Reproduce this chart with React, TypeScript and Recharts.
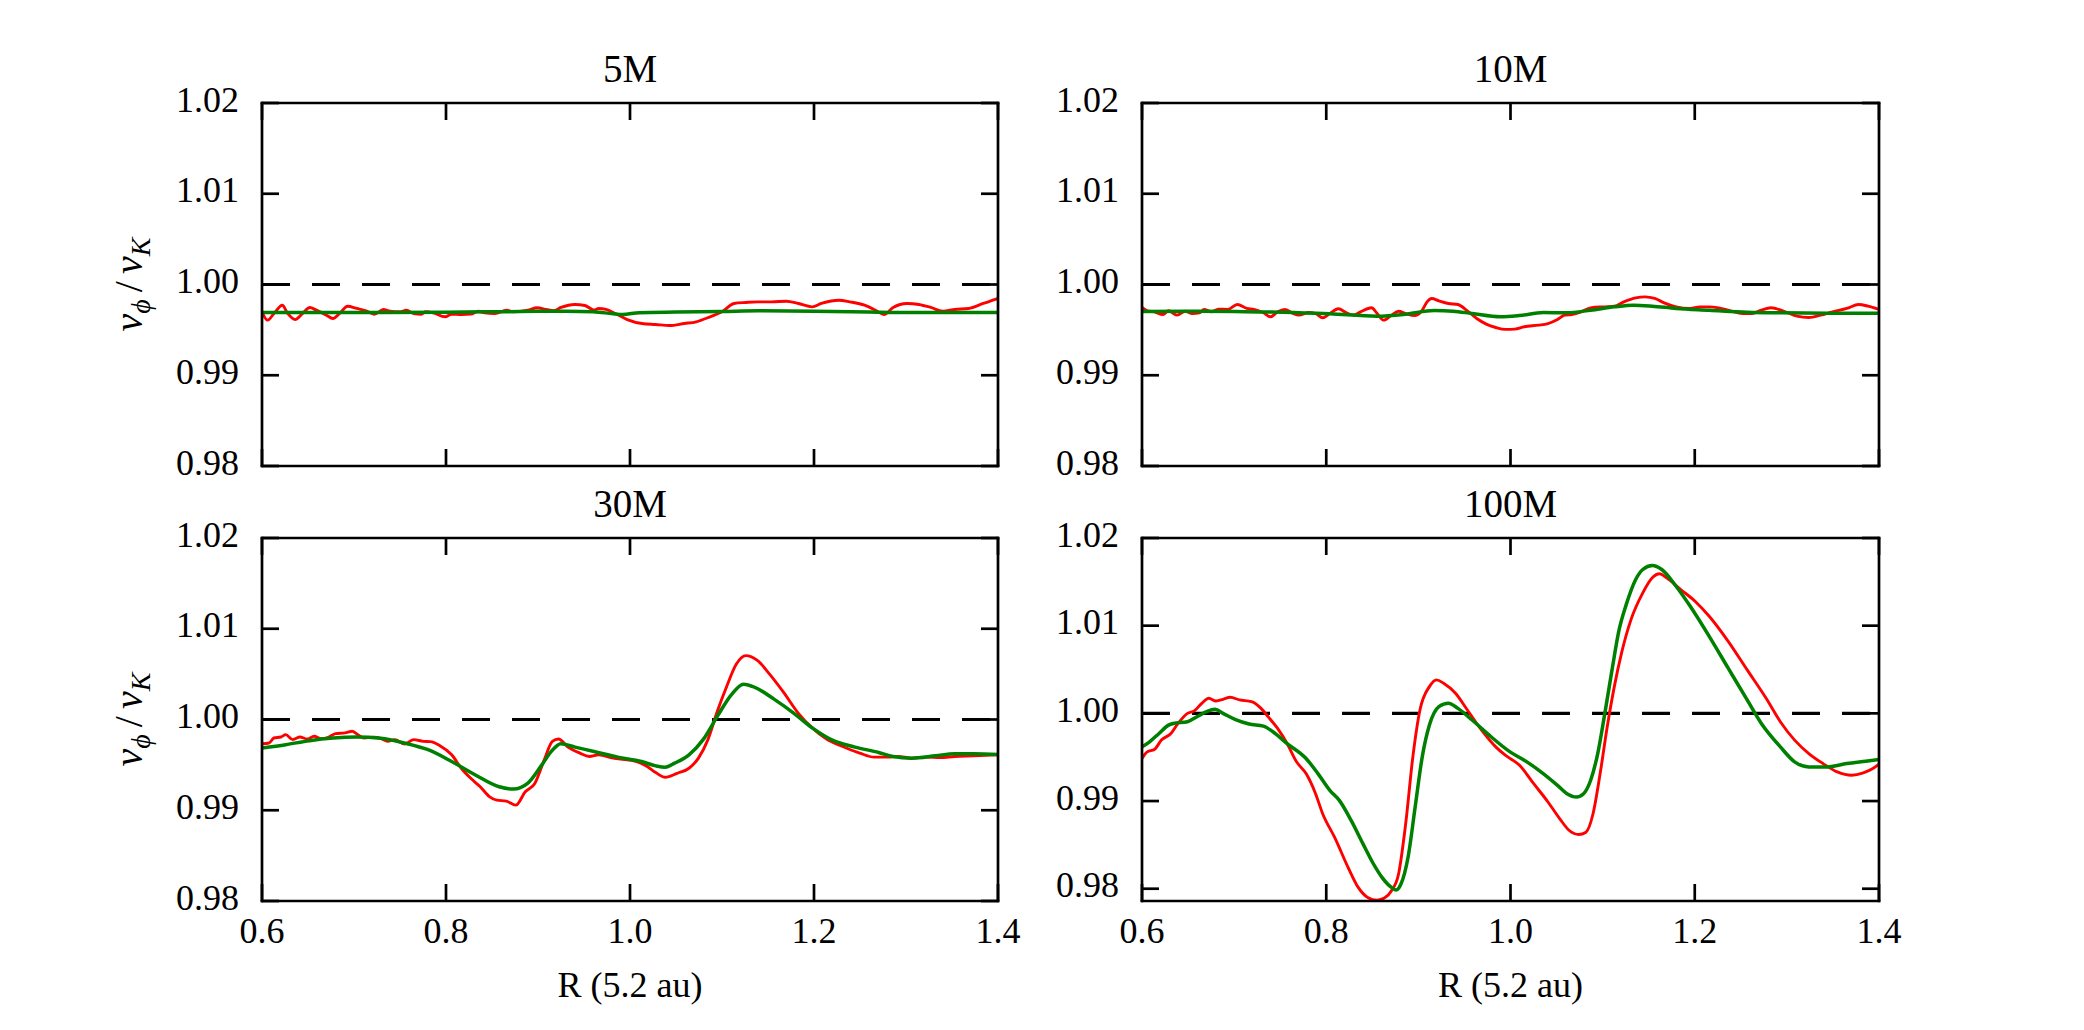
import React from 'react';
import { LineChart, Line, XAxis, YAxis, ReferenceLine } from 'recharts';

// ---------- tick values & texts ----------
const X_TICKS = [0.6, 0.8, 1.0, 1.2, 1.4];
const Y_TICKS = [0.98, 0.99, 1.0, 1.01, 1.02];
const TITLES = ['5M', '10M', '30M', '100M'];
const X_LABEL = 'R (5.2 au)';

// ---------- 5M ----------
const R_5M_RED = [0.600, 0.606, 0.613, 0.622, 0.628, 0.636, 0.644, 0.652, 0.659, 0.670, 0.677, 0.685, 0.693, 0.703, 0.713, 0.722, 0.732, 0.739, 0.750, 0.757, 0.765, 0.773, 0.778, 0.786, 0.799, 0.806, 0.817, 0.827, 0.835, 0.842, 0.853, 0.866, 0.873, 0.889, 0.899, 0.909, 0.917, 0.925, 0.940, 0.951, 0.961, 0.966, 0.974, 0.984, 0.997, 1.013, 1.028, 1.043, 1.059, 1.072, 1.087, 1.100, 1.113, 1.126, 1.139, 1.154, 1.170, 1.183, 1.198, 1.208, 1.227, 1.239, 1.255, 1.268, 1.276, 1.286, 1.301, 1.314, 1.327, 1.340, 1.353, 1.368, 1.384, 1.397, 1.400];
const V_5M_RED = [0.99699, 0.99607, 0.99680, 0.99772, 0.99680, 0.99614, 0.99680, 0.99747, 0.99717, 0.99662, 0.99625, 0.99688, 0.99761, 0.99736, 0.99710, 0.99673, 0.99725, 0.99706, 0.99699, 0.99717, 0.99680, 0.99673, 0.99699, 0.99688, 0.99644, 0.99673, 0.99669, 0.99673, 0.99706, 0.99688, 0.99680, 0.99717, 0.99699, 0.99717, 0.99743, 0.99725, 0.99710, 0.99747, 0.99780, 0.99769, 0.99717, 0.99736, 0.99725, 0.99680, 0.99614, 0.99570, 0.99559, 0.99548, 0.99570, 0.99589, 0.99644, 0.99699, 0.99791, 0.99802, 0.99809, 0.99809, 0.99816, 0.99791, 0.99754, 0.99791, 0.99827, 0.99809, 0.99772, 0.99710, 0.99669, 0.99747, 0.99791, 0.99780, 0.99747, 0.99706, 0.99725, 0.99736, 0.99791, 0.99835, 0.99846];
const R_5M_GREEN = [0.60, 0.70, 0.80, 0.88, 0.93, 0.96, 0.98, 0.992, 1.01, 1.05, 1.10, 1.14, 1.20, 1.26, 1.30, 1.40];
const V_5M_GREEN = [0.99691, 0.99691, 0.99695, 0.99702, 0.99706, 0.99699, 0.99680, 0.99669, 0.99690, 0.99697, 0.99703, 0.99710, 0.99706, 0.99697, 0.99691, 0.99691];

// ---------- 10M ----------
const R_10M_RED = [0.6000, 0.6057, 0.6134, 0.6227, 0.6288, 0.6381, 0.6468, 0.6546, 0.6623, 0.6674, 0.6752, 0.6829, 0.6932, 0.7035, 0.7138, 0.7215, 0.7318, 0.7395, 0.7472, 0.7550, 0.7627, 0.7704, 0.7807, 0.7884, 0.7961, 0.8039, 0.8131, 0.8219, 0.8296, 0.8373, 0.8492, 0.8553, 0.8620, 0.8708, 0.8785, 0.8862, 0.8965, 0.9042, 0.9094, 0.9145, 0.9223, 0.9326, 0.9429, 0.9532, 0.9634, 0.9737, 0.9840, 0.9943, 1.0046, 1.0149, 1.0304, 1.0407, 1.0510, 1.0587, 1.0664, 1.0767, 1.0870, 1.1024, 1.1127, 1.1230, 1.1359, 1.1462, 1.1565, 1.1668, 1.1797, 1.1951, 1.2054, 1.2157, 1.2260, 1.2389, 1.2517, 1.2620, 1.2723, 1.2826, 1.2955, 1.3109, 1.3238, 1.3367, 1.3496, 1.3650, 1.3779, 1.3882, 1.4000];
const V_10M_RED = [0.99747, 0.99710, 0.99699, 0.99669, 0.99710, 0.99662, 0.99706, 0.99680, 0.99688, 0.99725, 0.99699, 0.99728, 0.99725, 0.99780, 0.99736, 0.99725, 0.99688, 0.99644, 0.99699, 0.99725, 0.99688, 0.99662, 0.99691, 0.99680, 0.99633, 0.99680, 0.99732, 0.99688, 0.99662, 0.99699, 0.99743, 0.99680, 0.99607, 0.99662, 0.99706, 0.99680, 0.99658, 0.99717, 0.99809, 0.99846, 0.99820, 0.99791, 0.99780, 0.99710, 0.99625, 0.99563, 0.99526, 0.99505, 0.99508, 0.99534, 0.99552, 0.99570, 0.99614, 0.99662, 0.99669, 0.99699, 0.99743, 0.99754, 0.99761, 0.99809, 0.99853, 0.99864, 0.99846, 0.99798, 0.99754, 0.99736, 0.99754, 0.99754, 0.99743, 0.99710, 0.99680, 0.99680, 0.99717, 0.99743, 0.99710, 0.99651, 0.99636, 0.99662, 0.99699, 0.99736, 0.99780, 0.99761, 0.99725];
const R_10M_GREEN = [0.6000, 0.6494, 0.7009, 0.7524, 0.8039, 0.8553, 0.8862, 0.9171, 0.9377, 0.9583, 0.9892, 1.0098, 1.0355, 1.0613, 1.0870, 1.1127, 1.1333, 1.1539, 1.1797, 1.2157, 1.2569, 1.2929, 1.3444, 1.4000];
const V_10M_GREEN = [0.99702, 0.99706, 0.99702, 0.99695, 0.99677, 0.99651, 0.99673, 0.99714, 0.99706, 0.99680, 0.99644, 0.99658, 0.99691, 0.99688, 0.99717, 0.99754, 0.99772, 0.99761, 0.99736, 0.99717, 0.99695, 0.99688, 0.99684, 0.99684];

// ---------- 30M ----------
const R_30M_RED = [0.6000, 0.6077, 0.6129, 0.6206, 0.6258, 0.6335, 0.6413, 0.6490, 0.6567, 0.6645, 0.6722, 0.6799, 0.6902, 0.6980, 0.7031, 0.7109, 0.7212, 0.7289, 0.7366, 0.7444, 0.7547, 0.7650, 0.7753, 0.7830, 0.7934, 0.8062, 0.8166, 0.8269, 0.8372, 0.8475, 0.8552, 0.8655, 0.8759, 0.8862, 0.8965, 0.9068, 0.9156, 0.9223, 0.9326, 0.9455, 0.9558, 0.9661, 0.9816, 0.9970, 1.0073, 1.0177, 1.0280, 1.0383, 1.0512, 1.0641, 1.0744, 1.0847, 1.0950, 1.1053, 1.1156, 1.1259, 1.1388, 1.1517, 1.1672, 1.1826, 1.1981, 1.2136, 1.2291, 1.2497, 1.2652, 1.2806, 1.2909, 1.3064, 1.3219, 1.3373, 1.3528, 1.3734, 1.4000];
const V_30M_RED = [0.99733, 0.99741, 0.99796, 0.99807, 0.99833, 0.99778, 0.99807, 0.99785, 0.99815, 0.99789, 0.99804, 0.99844, 0.99852, 0.99870, 0.99841, 0.99796, 0.99804, 0.99793, 0.99759, 0.99778, 0.99730, 0.99778, 0.99759, 0.99756, 0.99711, 0.99611, 0.99463, 0.99352, 0.99259, 0.99148, 0.99111, 0.99100, 0.99056, 0.99204, 0.99296, 0.99556, 0.99759, 0.99785, 0.99696, 0.99630, 0.99593, 0.99611, 0.99574, 0.99556, 0.99537, 0.99489, 0.99415, 0.99363, 0.99407, 0.99463, 0.99574, 0.99778, 1.00093, 1.00370, 1.00611, 1.00704, 1.00648, 1.00500, 1.00296, 1.00074, 0.99907, 0.99785, 0.99711, 0.99630, 0.99585, 0.99585, 0.99593, 0.99574, 0.99585, 0.99581, 0.99593, 0.99600, 0.99611];
const R_30M_GREEN = [0.6000, 0.6258, 0.6516, 0.6773, 0.7031, 0.7289, 0.7547, 0.7805, 0.8062, 0.8320, 0.8578, 0.8733, 0.8887, 0.9042, 0.9145, 0.9248, 0.9403, 0.9609, 0.9867, 1.0125, 1.0280, 1.0383, 1.0486, 1.0641, 1.0795, 1.0950, 1.1105, 1.1234, 1.1362, 1.1569, 1.1775, 1.1981, 1.2187, 1.2445, 1.2703, 1.2858, 1.3064, 1.3322, 1.3528, 1.3734, 1.4000];
const V_30M_GREEN = [0.99685, 0.99722, 0.99767, 0.99796, 0.99807, 0.99793, 0.99741, 0.99667, 0.99537, 0.99389, 0.99259, 0.99233, 0.99296, 0.99500, 0.99648, 0.99733, 0.99696, 0.99648, 0.99585, 0.99537, 0.99489, 0.99474, 0.99519, 0.99611, 0.99778, 1.00037, 1.00278, 1.00389, 1.00352, 1.00222, 1.00074, 0.99907, 0.99778, 0.99696, 0.99637, 0.99593, 0.99574, 0.99600, 0.99622, 0.99622, 0.99615];

// ---------- 100M ----------
const R_100M_RED = [0.6000, 0.6057, 0.6134, 0.6211, 0.6314, 0.6391, 0.6494, 0.6571, 0.6649, 0.6726, 0.6803, 0.6880, 0.6958, 0.7060, 0.7189, 0.7292, 0.7369, 0.7472, 0.7575, 0.7678, 0.7781, 0.7884, 0.7961, 0.8090, 0.8245, 0.8347, 0.8450, 0.8553, 0.8631, 0.8708, 0.8785, 0.8862, 0.8940, 0.9017, 0.9120, 0.9197, 0.9274, 0.9403, 0.9532, 0.9686, 0.9840, 0.9943, 1.0098, 1.0252, 1.0407, 1.0535, 1.0638, 1.0741, 1.0819, 1.0896, 1.0973, 1.1050, 1.1127, 1.1205, 1.1308, 1.1436, 1.1539, 1.1617, 1.1694, 1.1848, 1.2003, 1.2157, 1.2363, 1.2569, 1.2775, 1.2929, 1.3084, 1.3238, 1.3393, 1.3547, 1.3702, 1.3830, 1.3933, 1.4000];
const V_100M_RED = [0.99485, 0.99561, 0.99588, 0.99695, 0.99771, 0.99885, 1.00000, 1.00031, 1.00115, 1.00172, 1.00141, 1.00160, 1.00183, 1.00153, 1.00134, 1.00057, 0.99962, 0.99828, 0.99656, 0.99447, 0.99313, 0.99084, 0.98855, 0.98588, 0.98225, 0.98015, 0.97901, 0.97870, 0.97893, 0.97977, 0.98168, 0.98740, 0.99504, 1.00038, 1.00305, 1.00382, 1.00344, 1.00229, 1.00038, 0.99809, 0.99618, 0.99523, 0.99408, 0.99198, 0.98989, 0.98798, 0.98664, 0.98618, 0.98645, 0.98855, 0.99313, 0.99847, 1.00305, 1.00687, 1.01069, 1.01374, 1.01546, 1.01592, 1.01546, 1.01412, 1.01279, 1.01107, 1.00821, 1.00496, 1.00172, 0.99905, 0.99695, 0.99542, 0.99427, 0.99332, 0.99294, 0.99321, 0.99370, 0.99420];
const R_100M_GREEN = [0.6000, 0.6082, 0.6185, 0.6288, 0.6340, 0.6494, 0.6597, 0.6700, 0.6793, 0.6880, 0.7009, 0.7163, 0.7318, 0.7421, 0.7575, 0.7781, 0.7910, 0.8039, 0.8142, 0.8270, 0.8399, 0.8502, 0.8605, 0.8708, 0.8759, 0.8811, 0.8888, 0.8965, 0.9042, 0.9120, 0.9223, 0.9326, 0.9429, 0.9583, 0.9789, 0.9995, 1.0149, 1.0355, 1.0510, 1.0613, 1.0716, 1.0793, 1.0870, 1.0947, 1.1024, 1.1102, 1.1179, 1.1256, 1.1359, 1.1436, 1.1539, 1.1642, 1.1797, 1.1951, 1.2157, 1.2363, 1.2569, 1.2723, 1.2929, 1.3084, 1.3238, 1.3444, 1.3650, 1.3856, 1.4000];
const V_100M_GREEN = [0.99618, 0.99676, 0.99771, 0.99866, 0.99885, 0.99905, 0.99962, 1.00019, 1.00046, 1.00000, 0.99931, 0.99878, 0.99855, 0.99790, 0.99656, 0.99485, 0.99313, 0.99122, 0.99008, 0.98779, 0.98511, 0.98302, 0.98130, 0.98015, 0.97985, 0.98053, 0.98359, 0.98931, 0.99504, 0.99866, 1.00076, 1.00115, 1.00057, 0.99924, 0.99733, 0.99561, 0.99466, 0.99313, 0.99179, 0.99084, 0.99046, 0.99084, 0.99237, 0.99542, 1.00000, 1.00496, 1.00954, 1.01240, 1.01527, 1.01641, 1.01687, 1.01641, 1.01450, 1.01221, 1.00878, 1.00515, 1.00153, 0.99885, 0.99618, 0.99447, 0.99389, 0.99389, 0.99427, 0.99454, 0.99473];

const Y_DOMAIN_DEFAULT: [number, number] = [0.98, 1.02];
const Y_DOMAIN_100M: [number, number] = [0.9786, 1.02];

const zip = (rs: number[], vs: number[]) => rs.map((r, i) => ({ r, v: vs[i] }));

const FONT = '"Liberation Serif", "Times New Roman", Times, serif';
const LW = 2.7;
const TICK_LEN = 17;
const BOX_W = 1042;
const AX = 1; // axis band thickness (axes with zero size are not drawn)
const AXIS_LINE = { stroke: '#000', strokeWidth: LW, strokeLinecap: 'square' };

type Plot = { top: number; right: number; bottom: number; left: number };

const BottomTick = (showLabel: boolean) => (props: any) => {
  const { x, y, payload } = props;
  return (
    <g>
      <line x1={x} x2={x} y1={y} y2={y - TICK_LEN} stroke="#000" strokeWidth={LW} />
      {showLabel && (
        <text x={x} y={y + 42} textAnchor="middle" fontFamily={FONT} fontSize={36} fill="#000">
          {Number(payload.value).toFixed(1)}
        </text>
      )}
    </g>
  );
};

const TopTick = (props: any) => {
  const { x, y } = props;
  return <line x1={x} x2={x} y1={y} y2={y + TICK_LEN} stroke="#000" strokeWidth={LW} />;
};

const LeftTick = (props: any) => {
  const { x, y, payload } = props;
  return (
    <g>
      <line x1={x} x2={x + TICK_LEN} y1={y} y2={y} stroke="#000" strokeWidth={LW} />
      <text x={x - 23} y={y + 8.5} textAnchor="end" fontFamily={FONT} fontSize={36} fill="#000">
        {Number(payload.value).toFixed(2)}
      </text>
    </g>
  );
};

const RightTick = (props: any) => {
  const { x, y } = props;
  return <line x1={x} x2={x - TICK_LEN} y1={y} y2={y} stroke="#000" strokeWidth={LW} />;
};

type PanelProps = {
  left: number;
  top: number;
  height: number;
  plot: Plot;
  title: string;
  red: { r: number; v: number }[];
  green: { r: number; v: number }[];
  yDomain: [number, number];
  showX: boolean;
  showY: boolean;
};

function Panel({ left, top, height, plot, title, red, green, yDomain, showX, showY }: PanelProps) {
  const margin = {
    top: plot.top - AX,
    right: plot.right - AX,
    bottom: plot.bottom - AX,
    left: plot.left - AX,
  };
  const plotW = BOX_W - plot.left - plot.right;
  const plotH = height - plot.top - plot.bottom;
  const cxTitle = plot.left + plotW / 2;

  const titleContent = () => (
    <text x={cxTitle} y={plot.top - 21} textAnchor="middle" fontFamily={FONT} fontSize={39} fill="#000">
      {title}
    </text>
  );
  const xLabelContent = () => (
    <text x={cxTitle} y={plot.top + plotH + 96} textAnchor="middle" fontFamily={FONT} fontSize={36} fill="#000">
      {X_LABEL}
    </text>
  );
  const yCx = plot.left - 120;
  const yCy = plot.top + plotH / 2;
  const yLabelContent = () => (
    <text
      transform={`rotate(-90, ${yCx}, ${yCy})`}
      x={yCx}
      y={yCy}
      textAnchor="middle"
      fontFamily={FONT}
      fontSize={40}
      fill="#000"
    >
      <tspan fontStyle="italic">v</tspan>
      <tspan fontStyle="italic" fontSize={28} dy={8}>ϕ</tspan>
      <tspan dy={-8} dx={7}>/</tspan>
      <tspan fontStyle="italic" dx={7}>v</tspan>
      <tspan fontStyle="italic" fontSize={28} dy={8}>K</tspan>
    </text>
  );

  return (
    <div style={{ position: 'absolute', left, top, width: BOX_W, height }}>
      <LineChart width={BOX_W} height={height} margin={margin}>
        <XAxis
          xAxisId="b"
          type="number"
          dataKey="r"
          domain={[0.6, 1.4]}
          ticks={X_TICKS}
          interval={0}
          allowDataOverflow
          orientation="bottom"
          height={AX}
          tickSize={0}
          tickMargin={0}
          tickLine={false}
          axisLine={AXIS_LINE}
          stroke="#000"
          tick={BottomTick(showX)}
          label={showX ? { content: xLabelContent } : undefined}
        />
        <XAxis
          xAxisId="t"
          type="number"
          dataKey="r"
          domain={[0.6, 1.4]}
          ticks={X_TICKS}
          interval={0}
          allowDataOverflow
          orientation="top"
          height={AX}
          tickSize={0}
          tickMargin={0}
          tickLine={false}
          axisLine={AXIS_LINE}
          stroke="#000"
          tick={TopTick}
          label={{ content: titleContent }}
        />
        <YAxis
          yAxisId="l"
          type="number"
          domain={yDomain}
          ticks={Y_TICKS}
          interval={0}
          allowDataOverflow
          orientation="left"
          width={AX}
          tickSize={0}
          tickMargin={0}
          tickLine={false}
          axisLine={AXIS_LINE}
          stroke="#000"
          tick={LeftTick}
          label={showY ? { content: yLabelContent } : undefined}
        />
        <YAxis
          yAxisId="rt"
          type="number"
          domain={yDomain}
          ticks={Y_TICKS}
          interval={0}
          allowDataOverflow
          orientation="right"
          width={AX}
          tickSize={0}
          tickMargin={0}
          tickLine={false}
          axisLine={AXIS_LINE}
          stroke="#000"
          tick={RightTick}
        />
        <ReferenceLine
          xAxisId="b"
          yAxisId="l"
          y={1}
          stroke="#000"
          strokeWidth={3.2}
          strokeDasharray="28 22"
          ifOverflow="hidden"
        />
        <Line
          xAxisId="b"
          yAxisId="l"
          data={red}
          dataKey="v"
          type="monotone"
          stroke="#ff0000"
          strokeWidth={2.9}
          dot={false}
          activeDot={false}
          isAnimationActive={false}
        />
        <Line
          xAxisId="b"
          yAxisId="l"
          data={green}
          dataKey="v"
          type="monotone"
          stroke="#008000"
          strokeWidth={3.5}
          dot={false}
          activeDot={false}
          isAnimationActive={false}
        />
      </LineChart>
    </div>
  );
}

// plot-area insets inside each panel box (top row boxes: y 0..515, bottom row boxes: y 430..1030)
const TOP_H = 515;
const BOT_TOP = 430;
const BOT_H = 600;
const P_TL: Plot = { top: 103, right: 44, bottom: 49, left: 262 };
const P_TR: Plot = { top: 103, right: 205, bottom: 49, left: 100 };
const P_BL: Plot = { top: 108, right: 44, bottom: 129, left: 262 };
const P_BR: Plot = { top: 108, right: 205, bottom: 129, left: 100 };

export default function App() {
  return (
    <div style={{ position: 'absolute', left: 0, top: 0, width: 2084, height: 1030, background: '#fff' }}>
      <Panel left={0} top={0} height={TOP_H} plot={P_TL} title={TITLES[0]} red={zip(R_5M_RED, V_5M_RED)} green={zip(R_5M_GREEN, V_5M_GREEN)} yDomain={Y_DOMAIN_DEFAULT} showX={false} showY={true} />
      <Panel left={1042} top={0} height={TOP_H} plot={P_TR} title={TITLES[1]} red={zip(R_10M_RED, V_10M_RED)} green={zip(R_10M_GREEN, V_10M_GREEN)} yDomain={Y_DOMAIN_DEFAULT} showX={false} showY={false} />
      <Panel left={0} top={BOT_TOP} height={BOT_H} plot={P_BL} title={TITLES[2]} red={zip(R_30M_RED, V_30M_RED)} green={zip(R_30M_GREEN, V_30M_GREEN)} yDomain={Y_DOMAIN_DEFAULT} showX={true} showY={true} />
      <Panel left={1042} top={BOT_TOP} height={BOT_H} plot={P_BR} title={TITLES[3]} red={zip(R_100M_RED, V_100M_RED)} green={zip(R_100M_GREEN, V_100M_GREEN)} yDomain={Y_DOMAIN_100M} showX={true} showY={false} />
    </div>
  );
}
